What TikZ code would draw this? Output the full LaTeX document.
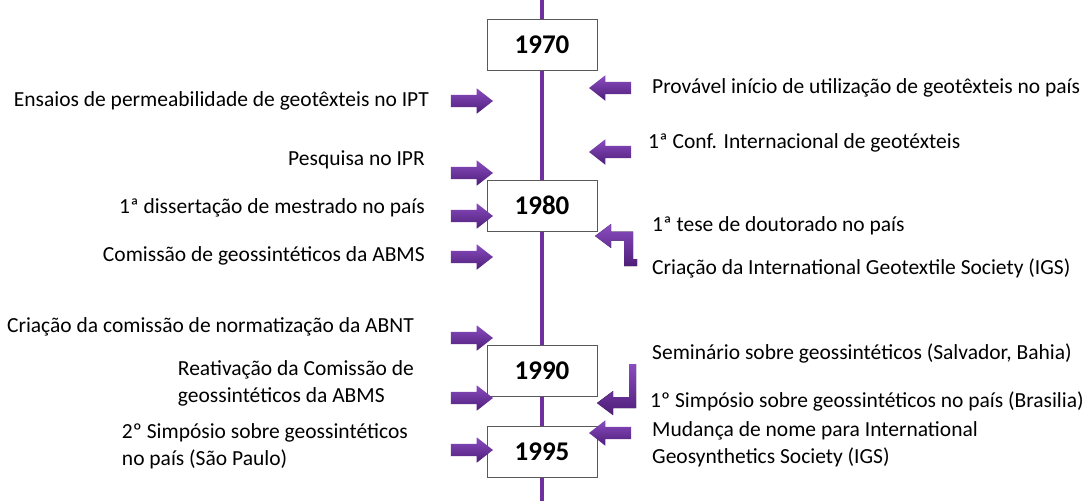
\documentclass[tikz,border=0pt]{standalone}
\usepackage{fontspec}
\setmainfont{Carlito}
\usetikzlibrary{shapes.arrows}
\definecolor{linepurple}{HTML}{7030A0}
\definecolor{arrowtop}{HTML}{8A4CC0}
\definecolor{arrowbot}{HTML}{4E1E78}
\tikzset{yearbox/.style={draw=black!65,line width=1pt,fill=white,minimum width=110pt,minimum height=51pt,inner sep=0pt,font=\fontsize{27}{30}\selectfont\bfseries}}
\tikzset{timeline/.style={draw=linepurple,line width=4pt}}
\tikzset{blockarrow/.style={single arrow,top color=arrowtop,bottom color=arrowbot,draw=none,minimum height=42pt,minimum width=25pt,inner sep=6pt,single arrow tip angle=76,single arrow head extend=6.5pt}}
\tikzset{toright/.style={blockarrow,shape border rotate=0}}
\tikzset{toleft/.style={blockarrow,shape border rotate=180}}
\tikzset{bentarrow/.style={top color=arrowtop,bottom color=arrowbot}}
\tikzset{event/.style={font=\fontsize{21.5}{27}\selectfont,inner sep=0pt,align=left}}

\begin{document}
\begin{tikzpicture}[x=1pt,y=-1pt]
    \useasboundingbox (0,0) rectangle (1086,501);
    % the year boxes
    \foreach \myname/\myy/\mytext in {y1970/44.5/1970,y1980/205.5/1980,y1990/370.5/1990,y1995/451.5/1995}
    {
        \node[yearbox] (\myname) at (542,\myy) {\mytext};
    }
    \coordinate (tltop) at (542,0);
    \coordinate (tlbot) at (542,501);
    \draw[timeline] (tltop) -- (y1970.north);
    \draw[timeline] (y1970.south) -- (y1980.north);
    \draw[timeline] (y1980.south) -- (y1990.north);
    \draw[timeline] (y1990.south) -- (y1995.north);
    \draw[timeline] (y1995.south) -- (tlbot);
    % arrows from the left
    \foreach \myname/\myy in {la1/101,la2/173,la3/216,la4/257,la5/338,la6/398,la7/450}
    {
        \node[toright] (\myname) at (468,\myy) {};
    }
    % arrows from the right
    \foreach \myname/\myy in {ra1/88,ra2/152,ra5/433}
    {
        \node[toleft] (\myname) at (614,\myy) {};
    }
    \fill[bentarrow] (595,236) -- (611,224) -- (611,231.5) -- (633,231.5) -- (633,259) -- (637,259) -- (637,266) -- (624,266) -- (624,240.5) -- (611,240.5) -- (611,248) -- cycle;
    \fill[bentarrow] (597,403) -- (613,391) -- (613,397) -- (629,397) -- (629,364) -- (636,364) -- (636,408) -- (613,408) -- (613,415) -- cycle;
    % left events
    \node[event,anchor=east] (ensaios) at (429,101) {Ensaios de permeabilidade de geotêxteis no IPT};
    \node[event,anchor=east] (pesquisa) at (425,160) {Pesquisa no IPR};
    \node[event,anchor=east] (dissert) at (425,208) {1ª dissertação de mestrado no país};
    \node[event,anchor=east] (comissao) at (425,256) {Comissão de geossintéticos da ABMS};
    \node[event,anchor=east] (abnt) at (414,327) {Criação da comissão de normatização da ABNT};
    \node[event,anchor=east] (reativ) at (414,383.5) {Reativação da Comissão de\\geossintéticos da ABMS};
    \node[event,anchor=east] (simp2) at (408,446) {2º Simpósio sobre geossintéticos\\no país (São Paulo)};
    % right events
    \node[event,anchor=west] (provavel) at (652,88) {Provável início de utilização de geotêxteis no país};
    \node[event,anchor=west] (conf) at (648,143) {1ª Conf. Internacional de geotéxteis};
    \node[event,anchor=west] (tese) at (652,226) {1ª tese de doutorado no país};
    \node[event,anchor=west] (igs) at (652,268) {Criação da International Geotextile Society (IGS)};
    \node[event,anchor=west] (semin) at (652,353) {Seminário sobre geossintéticos (Salvador, Bahia)};
    \node[event,anchor=west] (simp1) at (650,401) {1º Simpósio sobre geossintéticos no país (Brasilia)};
    \node[event,anchor=west] (mudanca) at (652,444) {Mudança de nome para International\\Geosynthetics Society (IGS)};
\end{tikzpicture}
\end{document}
